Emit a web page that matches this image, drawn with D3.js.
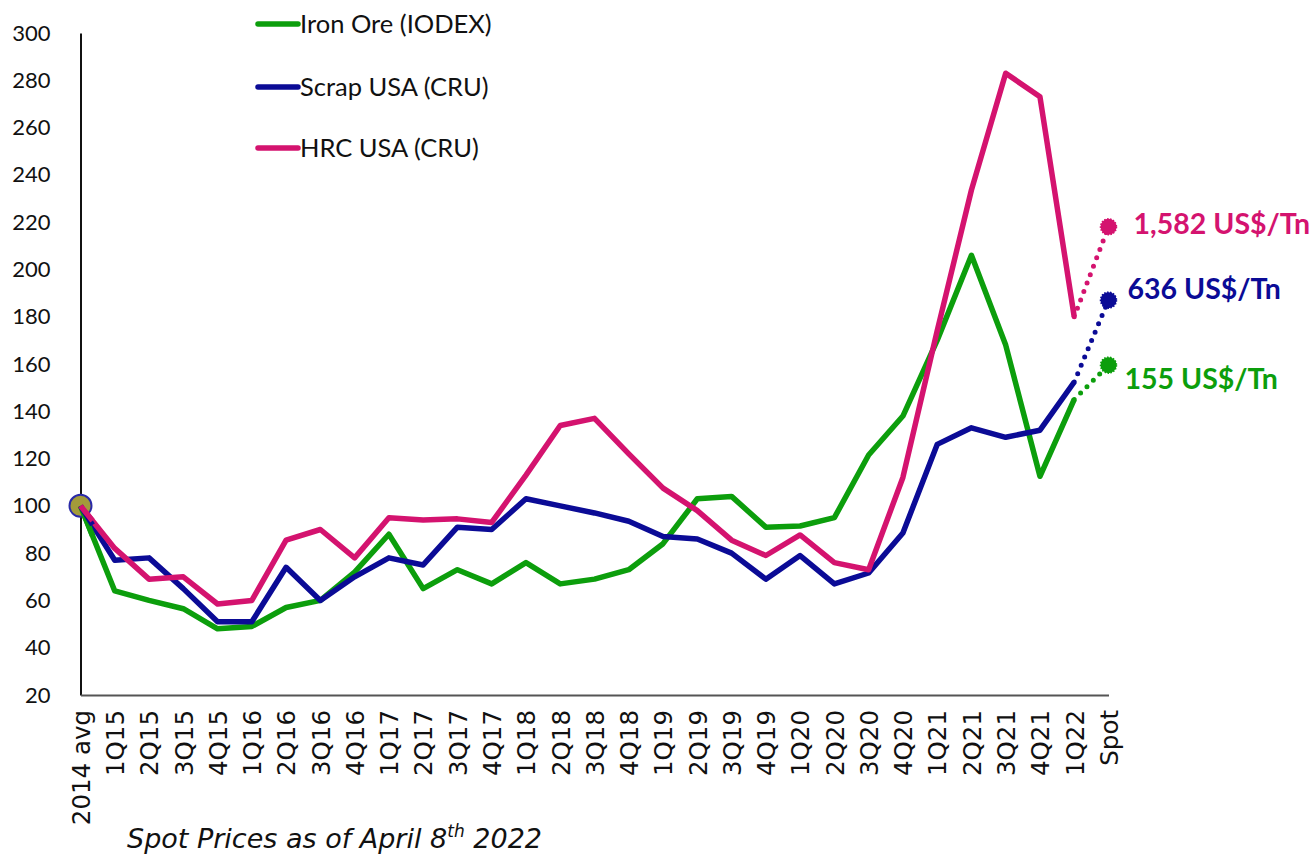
<!DOCTYPE html>
<html>
<head>
<meta charset="utf-8">
<script src="https://cdn.jsdelivr.net/npm/d3@7"></script>
<style>
  html, body { margin: 0; padding: 0; background: #fff; }
  svg { display: block; }
</style>
</head>
<body>
<svg id="chart" width="1313" height="854"></svg>
<script>
// ---------- data ----------
const categories = ["2014 avg",
  "1Q15","2Q15","3Q15","4Q15",
  "1Q16","2Q16","3Q16","4Q16",
  "1Q17","2Q17","3Q17","4Q17",
  "1Q18","2Q18","3Q18","4Q18",
  "1Q19","2Q19","3Q19","4Q19",
  "1Q20","2Q20","3Q20","4Q20",
  "1Q21","2Q21","3Q21","4Q21",
  "1Q22","Spot"];

const ironOre = [100,
  64, 60, 56.5, 48,
  49, 57, 60, 72,
  88, 65, 73, 67,
  76, 67, 69, 73,
  84, 103, 104, 91,
  91.5, 95, 121.5, 138,
  170, 206, 168, 112.5,
  145, 159.5];

const scrapUSA = [100,
  77, 78, 65, 51,
  51, 74, 60, 70,
  78, 75, 91, 90,
  103, 100, 97, 93.5,
  87, 86, 80, 69,
  79, 67, 71.6, 88.5,
  126, 133, 129, 132,
  152.4, 187];

const hrcUSA = [100,
  82, 69, 70, 58.5,
  60, 85.5, 90, 78,
  95, 94, 94.5, 93,
  113, 134, 137, 122,
  107.5, 98, 85.5, 79,
  87.7, 76, 73, 112,
  174, 233.6, 283, 273,
  180, 218];

const yTicks = [20,40,60,80,100,120,140,160,180,200,220,240,260,280,300];
const seriesNames = ["Iron Ore (IODEX)", "Scrap USA (CRU)", "HRC USA (CRU)"];
const spotLabels = ["155 US$/Tn", "636 US$/Tn", "1,582 US$/Tn"];
const footnote = ["Spot Prices as of April 8", "th", " 2022"];

// ---------- setup ----------
const colors = ["#0c9e0c", "#0b0b96", "#d4136f"];
const svg = d3.select("#chart");

const x = d3.scalePoint().domain(categories).range([80.5, 1108.5]);
const y = d3.scaleLinear().domain([20, 300]).range([695, 33]);

// y axis
const yAxis = svg.append("g")
  .attr("transform", "translate(80.5,0)")
  .call(d3.axisLeft(y).tickValues(yTicks).tickSize(0).tickPadding(30));
yAxis.select(".domain").attr("stroke", "#111").attr("stroke-width", 2);
yAxis.selectAll("text")
  .attr("font-family", "Lato, 'Open Sans', sans-serif")
  .attr("font-size", 22)
  .attr("fill", "#111");

// x axis
const xAxis = svg.append("g")
  .attr("transform", `translate(0,${y(20)})`)
  .call(d3.axisBottom(x).tickSize(0).tickPadding(0));
xAxis.select(".domain").attr("stroke", "#555").attr("stroke-width", 2);
xAxis.selectAll("text")
  .attr("font-family", "'DejaVu Sans', Verdana, sans-serif")
  .attr("font-size", 24.5)
  .attr("fill", "#111")
  .attr("text-anchor", "end")
  .attr("transform", "translate(0,15) rotate(-90)")
  .attr("x", 0)
  .attr("y", 0)
  .attr("dy", "0.36em");

// lines
const allSeries = [ironOre, scrapUSA, hrcUSA];
const mainIdx = d3.range(categories.length - 1);
const line = d3.line().x(d => d[0]).y(d => d[1]);

allSeries.forEach((vals, si) => {
  const pts = mainIdx.map(i => [x(categories[i]), y(vals[i])]);
  svg.append("path")
    .attr("d", line(pts))
    .attr("fill", "none")
    .attr("stroke", colors[si])
    .attr("stroke-width", 5.5)
    .attr("stroke-linejoin", "round");
});

// dotted extensions to spot
allSeries.forEach((vals, si) => {
  const n = categories.length;
  const p0 = [x(categories[n - 2]), y(vals[n - 2])];
  const p1 = [x(categories[n - 1]), y(vals[n - 1])];
  svg.append("path")
    .attr("d", line([p0, p1]))
    .attr("fill", "none")
    .attr("stroke", colors[si])
    .attr("stroke-width", 5)
    .attr("stroke-linecap", "round")
    .attr("stroke-dasharray", "0 9")
    .attr("stroke-dashoffset", -9);
  svg.append("circle")
    .attr("cx", p1[0]).attr("cy", p1[1]).attr("r", 8)
    .attr("fill", colors[si])
    .attr("stroke", colors[si])
    .attr("stroke-width", 1.5)
    .attr("stroke-dasharray", "1.5 1.5");
});

// base marker at 2014 avg
svg.append("circle")
  .attr("cx", x(categories[0])).attr("cy", y(ironOre[0])).attr("r", 11)
  .attr("fill", "#a39b3a")
  .attr("stroke", "#2a2aa8")
  .attr("stroke-width", 2);
// redraw line starts over marker
allSeries.forEach((vals, si) => {
  const pts = [0, 1].map(i => [x(categories[i]), y(vals[i])]);
  const mid = [pts[0][0] + (pts[1][0] - pts[0][0]) * 0.35, pts[0][1] + (pts[1][1] - pts[0][1]) * 0.35];
  svg.append("path")
    .attr("d", line([pts[0], mid]))
    .attr("fill", "none")
    .attr("stroke", colors[si])
    .attr("stroke-width", 5.5);
});

// spot labels
const spotLabelOffsets = [[16, 14], [19, -11], [25, -3]];
allSeries.forEach((vals, si) => {
  const n = categories.length;
  svg.append("text")
    .attr("x", x(categories[n - 1]) + spotLabelOffsets[si][0])
    .attr("y", y(vals[n - 1]) + spotLabelOffsets[si][1])
    .attr("dy", "0.35em")
    .attr("font-family", "Lato, 'Open Sans', sans-serif")
    .attr("font-weight", "bold")
    .attr("font-size", 28.5)
    .attr("fill", colors[si])
    .text(spotLabels[si]);
});

// legend
const legendY = [24, 87, 148];
seriesNames.forEach((name, si) => {
  svg.append("line")
    .attr("x1", 258).attr("x2", 298)
    .attr("y1", legendY[si]).attr("y2", legendY[si])
    .attr("stroke", colors[si])
    .attr("stroke-width", 5.5)
    .attr("stroke-linecap", "round");
  svg.append("text")
    .attr("x", 300).attr("y", legendY[si])
    .attr("dy", "0.35em")
    .attr("font-family", "Lato, 'Open Sans', sans-serif")
    .attr("font-size", 25.5)
    .attr("fill", "#111")
    .text(name);
});

// footnote
const fn = svg.append("text")
  .attr("x", 127).attr("y", 848)
  .attr("font-family", "'DejaVu Sans', Verdana, sans-serif")
  .attr("font-style", "italic")
  .attr("font-size", 27)
  .attr("fill", "#111");
fn.append("tspan").text(footnote[0]);
fn.append("tspan").attr("font-size", 17).attr("dy", -11).text(footnote[1]);
fn.append("tspan").attr("dy", 11).text(footnote[2]);
</script>
</body>
</html>
